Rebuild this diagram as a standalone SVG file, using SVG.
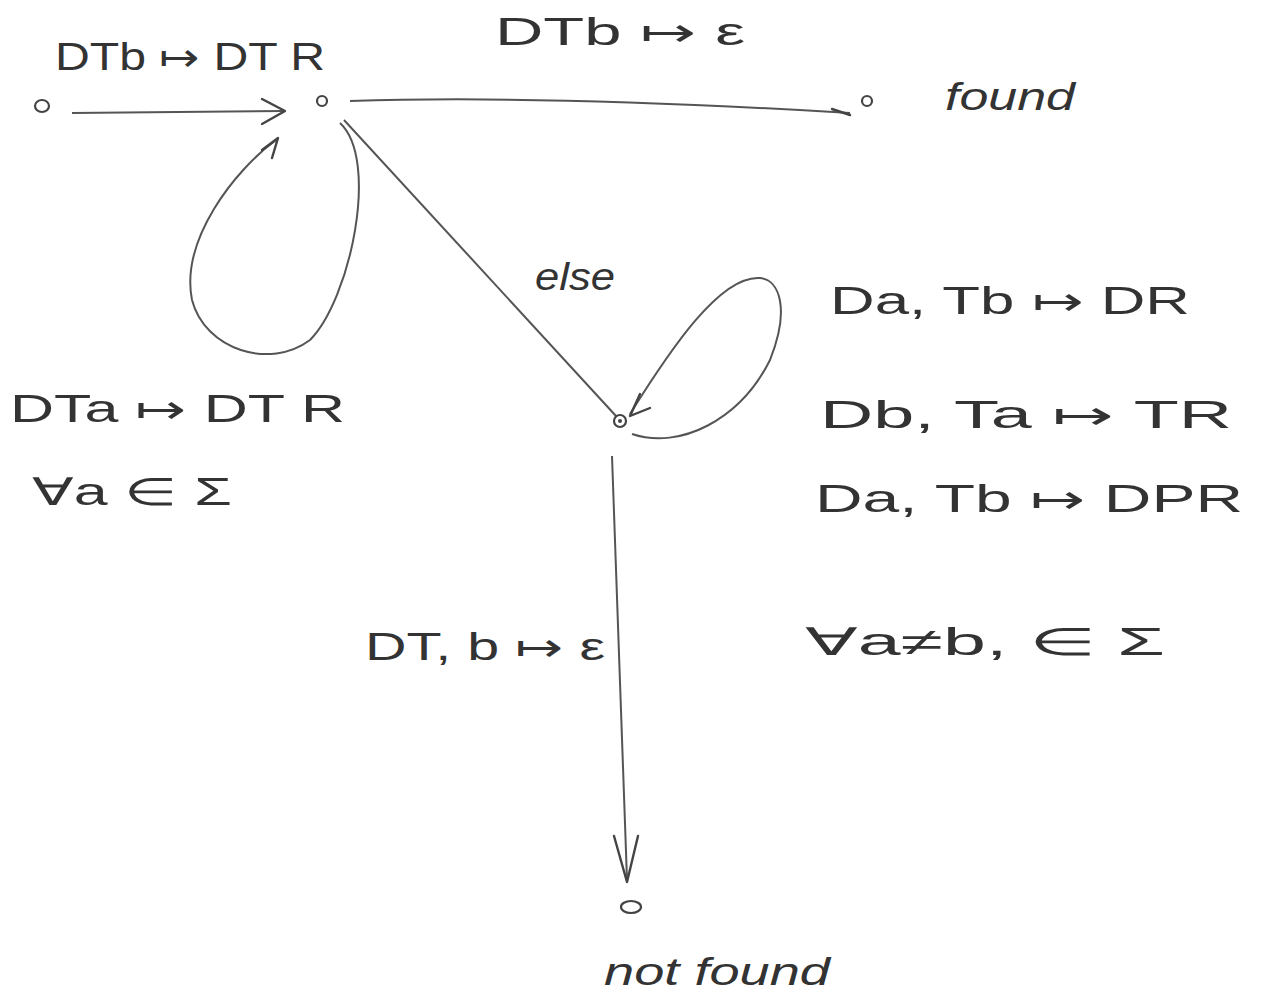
<svg xmlns="http://www.w3.org/2000/svg" width="1261" height="997" viewBox="0 0 1261 997">
<style>
.n{fill:none;stroke:#444;stroke-width:2.2}
.e{fill:none;stroke:#555;stroke-width:2}
.t{font-family:"Liberation Sans",Arial,sans-serif;fill:#333;font-size:38px}
.h{fill:none;stroke:#444;stroke-width:2.4;stroke-linecap:round;stroke-linejoin:round}
</style>
<rect width="1261" height="997" fill="#fff"/>
<g id="connectors">
<path class="e" d="M72,113 L283,111"/>
<path class="h" d="M262,99 L285,111 L262,124"/>
<path class="e" d="M350,101 C500,96 700,104 850,113"/>
<path class="h" d="M832,109 L850,115"/>
<path class="e" d="M340,123 C380,160 350,300 310,340 C270,370 205,350 192,300 C180,240 235,170 276,140"/>
<path class="h" d="M262,150 L278,138 L272,158"/>
<path class="e" d="M344,120 L616,416"/>
<path class="e" d="M632,434 C680,450 740,420 770,360 C790,310 780,280 760,278 C720,275 670,350 630,414"/>
<path class="h" d="M640,394 L630,416 L650,408"/>
<path class="e" d="M612,456 L627,880"/>
<path class="h" d="M614,836 L627,882 L638,836"/>
</g>
<g id="start"><ellipse class="n" cx="42" cy="106" rx="7" ry="6"/></g>
<g id="q0"><ellipse class="n" cx="322" cy="101" rx="5" ry="5"/></g>
<g id="found"><ellipse class="n" cx="867" cy="101" rx="5" ry="5"/><text class="t" x="945" y="110" font-style="italic" font-size="40" textLength="130" lengthAdjust="spacingAndGlyphs">found</text></g>
<g id="q1"><ellipse class="n" cx="620" cy="421" rx="6" ry="6"/><circle cx="620" cy="421" r="2" fill="#444"/></g>
<g id="notfound"><ellipse class="n" cx="631" cy="907" rx="10" ry="6"/><text class="t" x="604" y="985" font-style="italic" font-size="40" textLength="226" lengthAdjust="spacingAndGlyphs">not found</text></g>
<g id="labels">
<text class="t" x="55" y="70" font-size="36" textLength="270" lengthAdjust="spacingAndGlyphs">DTb ↦ DT R</text>
<text class="t" x="495" y="45" font-size="36" textLength="250" lengthAdjust="spacingAndGlyphs">DTb ↦ ε</text>
<text class="t" x="10" y="422" font-size="42" textLength="335" lengthAdjust="spacingAndGlyphs">DTa ↦ DT R</text>
<text class="t" x="32" y="505" font-size="44" textLength="200" lengthAdjust="spacingAndGlyphs">∀a ∈ Σ</text>
<text class="t" x="535" y="290" font-style="italic" font-size="32" textLength="80" lengthAdjust="spacingAndGlyphs">else</text>
<text class="t" x="830" y="314" font-size="46" textLength="360" lengthAdjust="spacingAndGlyphs">Da, Tb ↦ DR</text>
<text class="t" x="820" y="428" font-size="46" textLength="412" lengthAdjust="spacingAndGlyphs">Db, Ta ↦ TR</text>
<text class="t" x="815" y="512" font-size="46" textLength="428" lengthAdjust="spacingAndGlyphs">Da, Tb ↦ DPR</text>
<text class="t" x="805" y="655" font-size="46" textLength="360" lengthAdjust="spacingAndGlyphs">∀a≠b, ∈ Σ</text>
<text class="t" x="365" y="660" font-size="40" textLength="240" lengthAdjust="spacingAndGlyphs">DT, b ↦ ε</text>
</g>
</svg>
